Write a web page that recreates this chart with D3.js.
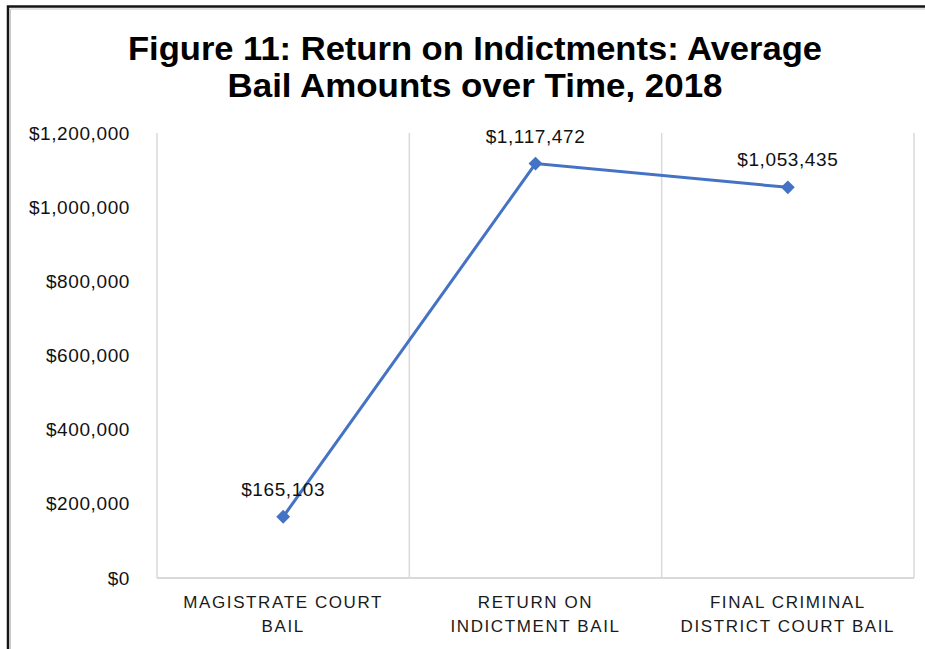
<!DOCTYPE html>
<html>
<head>
<meta charset="utf-8">
<script src="https://cdn.jsdelivr.net/npm/d3@7"></script>
<style>
  body { margin: 0; background: #fff; }
  text { font-family: "Liberation Sans", Arial, sans-serif; }
</style>
</head>
<body>
<script>
// data
var categories = ["Magistrate Court Bail", "Return on Indictment Bail", "Final Criminal District Court Bail"]
var categoryLines = [["MAGISTRATE COURT", "BAIL"], ["RETURN ON", "INDICTMENT BAIL"], ["FINAL CRIMINAL", "DISTRICT COURT BAIL"]]
var bailAmounts = [165103, 1117472, 1053435]
var yTicks = [0, 200000, 400000, 600000, 800000, 1000000, 1200000]
var titleLines = ["Figure 11: Return on Indictments: Average", "Bail Amounts over Time, 2018"]

var width = 925, height = 649
var margin = {top: 133, right: 11, bottom: 71, left: 157}

var svg = d3.select("body").append("svg")
    .attr("width", width)
    .attr("height", height)

// outer frame (top and left edge only are visible)
svg.append("path")
    .attr("d", "M8,649V6.5H925")
    .attr("fill", "none")
    .attr("stroke", "#151515")
    .attr("stroke-width", 2.5)
svg.append("path")
    .attr("d", "M10.5,649V9H925")
    .attr("fill", "none")
    .attr("stroke", "#c8c8c8")
    .attr("stroke-width", 1)

// title
svg.selectAll(".title")
    .data(titleLines)
    .enter()
    .append("text")
    .attr("class", "title")
    .attr("x", 475)
    .attr("y", function(d, i) { return 60 + i * 37 })
    .attr("text-anchor", "middle")
    .attr("font-size", 33)
    .attr("font-weight", "bold")
    .attr("fill", "#000")
    .attr("textLength", function(d, i) { return i == 0 ? 694 : 495 })
    .attr("lengthAdjust", "spacingAndGlyphs")
    .text(function(d) { return d })

var x = d3.scaleBand()
    .domain(categories)
    .range([margin.left, width - margin.right])
    .padding(0)

var y = d3.scaleLinear()
    .domain([0, 1200000])
    .range([height - margin.bottom, margin.top])

// vertical category separators
var edges = categories.map(function(c) { return x(c) }).concat([x.range()[1]])
svg.selectAll(".vgrid")
    .data(edges)
    .enter()
    .append("line")
    .attr("class", "vgrid")
    .attr("x1", function(d) { return d })
    .attr("x2", function(d) { return d })
    .attr("y1", y(1200000))
    .attr("y2", y(0))
    .attr("stroke", "#d9d9d9")
    .attr("stroke-width", 1.5)

// baseline
svg.append("line")
    .attr("x1", x.range()[0])
    .attr("x2", x.range()[1])
    .attr("y1", y(0))
    .attr("y2", y(0))
    .attr("stroke", "#d9d9d9")
    .attr("stroke-width", 2)

// y axis
var fmt = d3.format(",")
var yAxis = svg.append("g")
    .attr("transform", "translate(" + margin.left + ",0)")
    .call(d3.axisLeft(y)
        .tickValues(yTicks)
        .tickSize(0)
        .tickPadding(27)
        .tickFormat(function(d) { return "$" + fmt(d) }))
yAxis.select(".domain").remove()
yAxis.selectAll("text")
    .attr("font-family", "'Liberation Sans', Arial, sans-serif")
    .attr("font-size", 19)
    .attr("letter-spacing", 0.6)
    .attr("fill", "#111")

// x axis labels
var xAxis = svg.append("g")
    .attr("transform", "translate(0," + y(0) + ")")
    .call(d3.axisBottom(x).tickSize(0).tickFormat(""))
xAxis.select(".domain").remove()
xAxis.selectAll(".tick").each(function(d, i) {
    var t = d3.select(this).append("text")
        .attr("text-anchor", "middle")
        .attr("font-family", "'Liberation Sans', Arial, sans-serif")
        .attr("font-size", 17)
        .attr("letter-spacing", 1.6)
        .attr("fill", "#1a1a1a")
    t.selectAll("tspan")
        .data(categoryLines[i])
        .enter()
        .append("tspan")
        .attr("x", 0)
        .attr("y", function(l, j) { return 30 + j * 24 })
        .text(function(l) { return l })
})

// line + markers
var cx = function(d, i) { return x(categories[i]) + x.bandwidth() / 2 }
var line = d3.line()
    .x(cx)
    .y(function(d) { return y(d) })

svg.append("path")
    .datum(bailAmounts)
    .attr("d", line)
    .attr("fill", "none")
    .attr("stroke", "#4472c4")
    .attr("stroke-width", 3)

svg.selectAll(".marker")
    .data(bailAmounts)
    .enter()
    .append("path")
    .attr("class", "marker")
    .attr("d", d3.symbol().type(d3.symbolSquare).size(96))
    .attr("transform", function(d, i) { return "translate(" + cx(d, i) + "," + y(d) + ") rotate(45)" })
    .attr("fill", "#4472c4")

// data labels
svg.selectAll(".dlabel")
    .data(bailAmounts)
    .enter()
    .append("text")
    .attr("class", "dlabel")
    .attr("x", cx)
    .attr("y", function(d) { return y(d) - 21 })
    .attr("text-anchor", "middle")
    .attr("font-size", 19)
    .attr("letter-spacing", 0.6)
    .attr("fill", "#111")
    .text(function(d) { return "$" + fmt(d) })
</script>
</body>
</html>
